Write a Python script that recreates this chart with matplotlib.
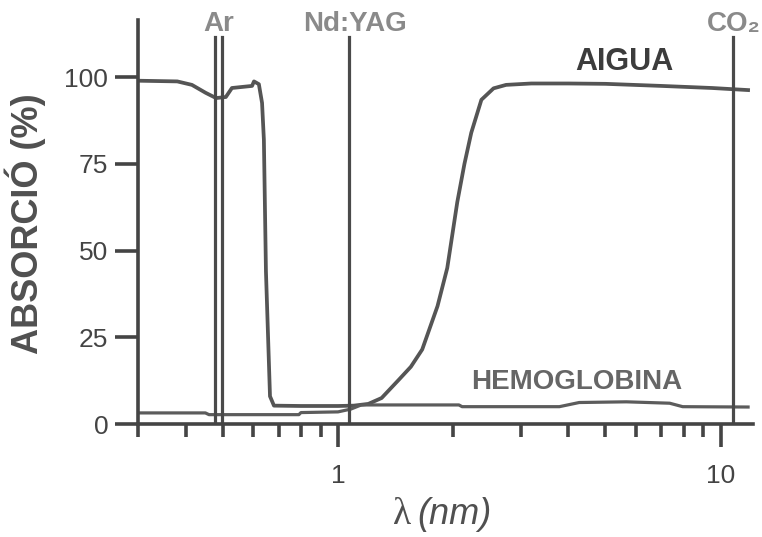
import numpy as np
import matplotlib
matplotlib.use('Agg')
import matplotlib.pyplot as plt

# absorption spectra
wl_water = [0.30, 0.38, 0.415, 0.451, 0.48, 0.509, 0.528, 0.596, 0.603, 0.621,
            0.633, 0.64, 0.648, 0.664, 0.68, 0.8, 1.0, 1.1, 1.2, 1.3, 1.44,
            1.55, 1.66, 1.82, 1.93, 2.05, 2.14, 2.23, 2.37, 2.55, 2.75, 3.2,
            4.0, 5.0, 7.0, 9.5, 11.8]
abs_water = [99.0, 98.8, 97.8, 95.5, 94.0, 94.3, 96.9, 97.5, 98.8, 98.0,
             92.6, 82, 44, 8, 5.3, 5.2, 5.2, 5.3, 5.8, 7.5, 12.7,
             16.5, 21.5, 34, 45, 64, 75, 84, 93.5, 96.8, 97.8, 98.2,
             98.2, 98.1, 97.5, 96.9, 96.3]

wl_hb = [0.30, 0.45, 0.46, 0.79, 0.80, 1.0, 1.08, 1.15, 2.07, 2.11, 3.79,
         4.27, 5.67, 7.36, 7.96, 11.8]
abs_hb = [3.2, 3.2, 2.7, 2.7, 3.3, 3.5, 4.3, 5.5, 5.5, 5.0, 5.0,
          6.2, 6.4, 6.0, 5.0, 4.9]

# laser lines
laser_wl = [0.477, 0.497, 1.07, 10.8]
laser_names = ['Ar', 'Nd:YAG', 'CO₂']
laser_label_x = [0.487, 1.108, 10.8]

y_ticks = [0, 25, 50, 75, 100]
x_minor = [0.3, 0.4, 0.5, 0.6, 0.7, 0.8, 0.9, 2, 3, 4, 5, 6, 7, 8, 9]

plt.rcParams['font.family'] = ['Liberation Sans', 'DejaVu Sans']

fig = plt.figure(figsize=(7.62, 5.37), dpi=100)
ax = fig.add_axes([0.1811, 0.2104, 0.807, 0.7523])

ax.plot(wl_water, abs_water, color='#555555', lw=2.7, solid_joinstyle='round')
ax.plot(wl_hb, abs_hb, color='#5c5c5c', lw=2.3)

for w in laser_wl:
    ax.plot([w, w], [0, 111.5], color='#4a4a4a', lw=2.3)

for name, x in zip(laser_names, laser_label_x):
    ax.text(x, 115.4, name, ha='center', va='center', fontsize=20,
            fontweight='bold', color='#8a8a8a', clip_on=False)

ax.text(5.61, 104.3, 'AIGUA', ha='center', va='center', fontsize=22,
        fontweight='bold', color='#3c3c3c')
ax.text(4.21, 12.1, 'HEMOGLOBINA', ha='center', va='center', fontsize=20,
        fontweight='bold', color='#666666')

ax.set_xscale('log')
ax.set_xlim(0.3, 12.15)
ax.set_ylim(0, 116.5)

ax.set_xticks([1, 10])
ax.set_xticklabels(['1', '10'])
ax.set_xticks(x_minor, minor=True)
ax.xaxis.set_minor_formatter(matplotlib.ticker.NullFormatter())
ax.set_yticks(y_ticks)

for s in ['top', 'right']:
    ax.spines[s].set_visible(False)
for s in ['left', 'bottom']:
    ax.spines[s].set_linewidth(2.6)
    ax.spines[s].set_color('#444444')

ax.tick_params(axis='both', which='major', length=16.5, width=2.6,
               color='#444444', labelsize=19, labelcolor='#444444')
ax.tick_params(axis='x', which='major', pad=12)
ax.tick_params(axis='y', which='major', pad=5)
ax.tick_params(axis='x', which='minor', length=9.5, width=2.6, color='#444444')

fig.text(25 / 762, 1 - 224 / 537, 'ABSORCIÓ (%)', rotation=90, ha='center',
         va='center', fontsize=26, fontweight='bold', color='#505050')
fig.text(411 / 762, 1 - 515 / 537, 'λ', ha='right', va='center',
         fontsize=27, family='Liberation Serif', color='#505050')
fig.text(417 / 762, 1 - 515 / 537, '(nm)', ha='left', va='center',
         fontsize=26, fontstyle='italic', color='#505050')

fig.savefig('out.png', dpi=100)
